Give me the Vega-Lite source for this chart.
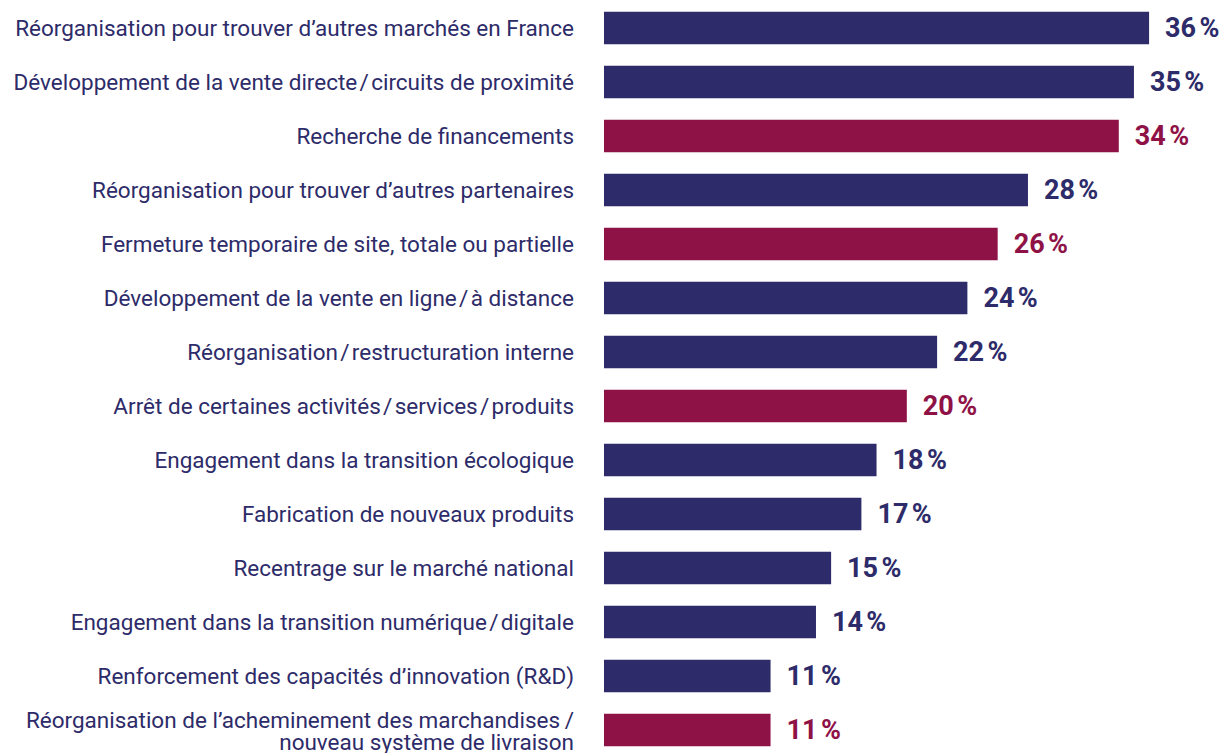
{
  "$schema": "https://vega.github.io/schema/vega-lite/v6.json",
  "width": 622,
  "height": 756,
  "autosize": {"type": "none"},
  "padding": {"left": 604, "top": 1, "right": 0, "bottom": 0},
  "background": "white",
  "config": {"view": {"stroke": null}, "font": "Roboto"},
  "data": {
    "values": [
      {"cat": "Réorganisation pour trouver d\u2019autres marchés en France", "value": 36, "pct": "36\u202f%", "type": "bleu", "lignes": 1},
      {"cat": "Développement de la vente directe\u200a/\u200acircuits de proximité", "value": 35, "pct": "35\u202f%", "type": "bleu", "lignes": 1},
      {"cat": "Recherche de financements", "value": 34, "pct": "34\u202f%", "type": "rouge", "lignes": 1},
      {"cat": "Réorganisation pour trouver d\u2019autres partenaires", "value": 28, "pct": "28\u202f%", "type": "bleu", "lignes": 1},
      {"cat": "Fermeture temporaire de site, totale ou partielle", "value": 26, "pct": "26\u202f%", "type": "rouge", "lignes": 1},
      {"cat": "Développement de la vente en ligne\u200a/\u200aà distance", "value": 24, "pct": "24\u202f%", "type": "bleu", "lignes": 1},
      {"cat": "Réorganisation\u200a/\u200arestructuration interne", "value": 22, "pct": "22\u202f%", "type": "bleu", "lignes": 1},
      {"cat": "Arrêt de certaines activités\u200a/\u200aservices\u200a/\u200aproduits", "value": 20, "pct": "20\u202f%", "type": "rouge", "lignes": 1},
      {"cat": "Engagement dans la transition écologique", "value": 18, "pct": "18\u202f%", "type": "bleu", "lignes": 1},
      {"cat": "Fabrication de nouveaux produits", "value": 17, "pct": "17\u202f%", "type": "bleu", "lignes": 1},
      {"cat": "Recentrage sur le marché national", "value": 15, "pct": "15\u202f%", "type": "bleu", "lignes": 1},
      {"cat": "Engagement dans la transition numérique\u200a/\u200adigitale", "value": 14, "pct": "14\u202f%", "type": "bleu", "lignes": 1},
      {"cat": "Renforcement des capacités d\u2019innovation (R&D)", "value": 11, "pct": "11\u202f%", "type": "bleu", "lignes": 1},
      {"cat": "Réorganisation de l\u2019acheminement des marchandises\u2009/|nouveau système de livraison", "value": 11, "pct": "11\u202f%", "type": "rouge", "lignes": 2}
    ]
  },
  "encoding": {
    "y": {
      "field": "cat",
      "type": "nominal",
      "sort": null,
      "scale": {"paddingInner": 0.4, "paddingOuter": 0.2},
      "axis": null
    }
  },
  "layer": [
    {
      "mark": {"type": "bar"},
      "encoding": {
        "x": {"field": "value", "type": "quantitative", "scale": {"domain": [0, 41.08], "nice": false, "zero": true}, "axis": null},
        "color": {
          "field": "type",
          "type": "nominal",
          "scale": {"domain": ["bleu", "rouge"], "range": ["#2d2b69", "#8f1247"]},
          "legend": null
        }
      }
    },
    {
      "mark": {"type": "text", "align": "left", "baseline": "middle", "dx": 16, "dy": 1, "fontSize": 27, "fontWeight": "bold"},
      "encoding": {
        "x": {"field": "value", "type": "quantitative"},
        "text": {"field": "pct"},
        "color": {"field": "type", "type": "nominal", "legend": null}
      }
    },
    {
      "transform": [{"filter": "datum.lignes == 1"}],
      "mark": {"type": "text", "align": "right", "baseline": "middle", "dx": -30, "dy": 1, "fontSize": 22.5, "color": "#2d2b69"},
      "encoding": {
        "x": {"datum": 0, "type": "quantitative"},
        "text": {"field": "cat"}
      }
    },
    {
      "transform": [{"filter": "datum.lignes == 2"}],
      "mark": {"type": "text", "align": "right", "baseline": "middle", "dx": -30, "dy": -9, "fontSize": 22.5, "lineBreak": "|", "lineHeight": 22, "color": "#2d2b69"},
      "encoding": {
        "x": {"datum": 0, "type": "quantitative"},
        "text": {"field": "cat"}
      }
    }
  ]
}
